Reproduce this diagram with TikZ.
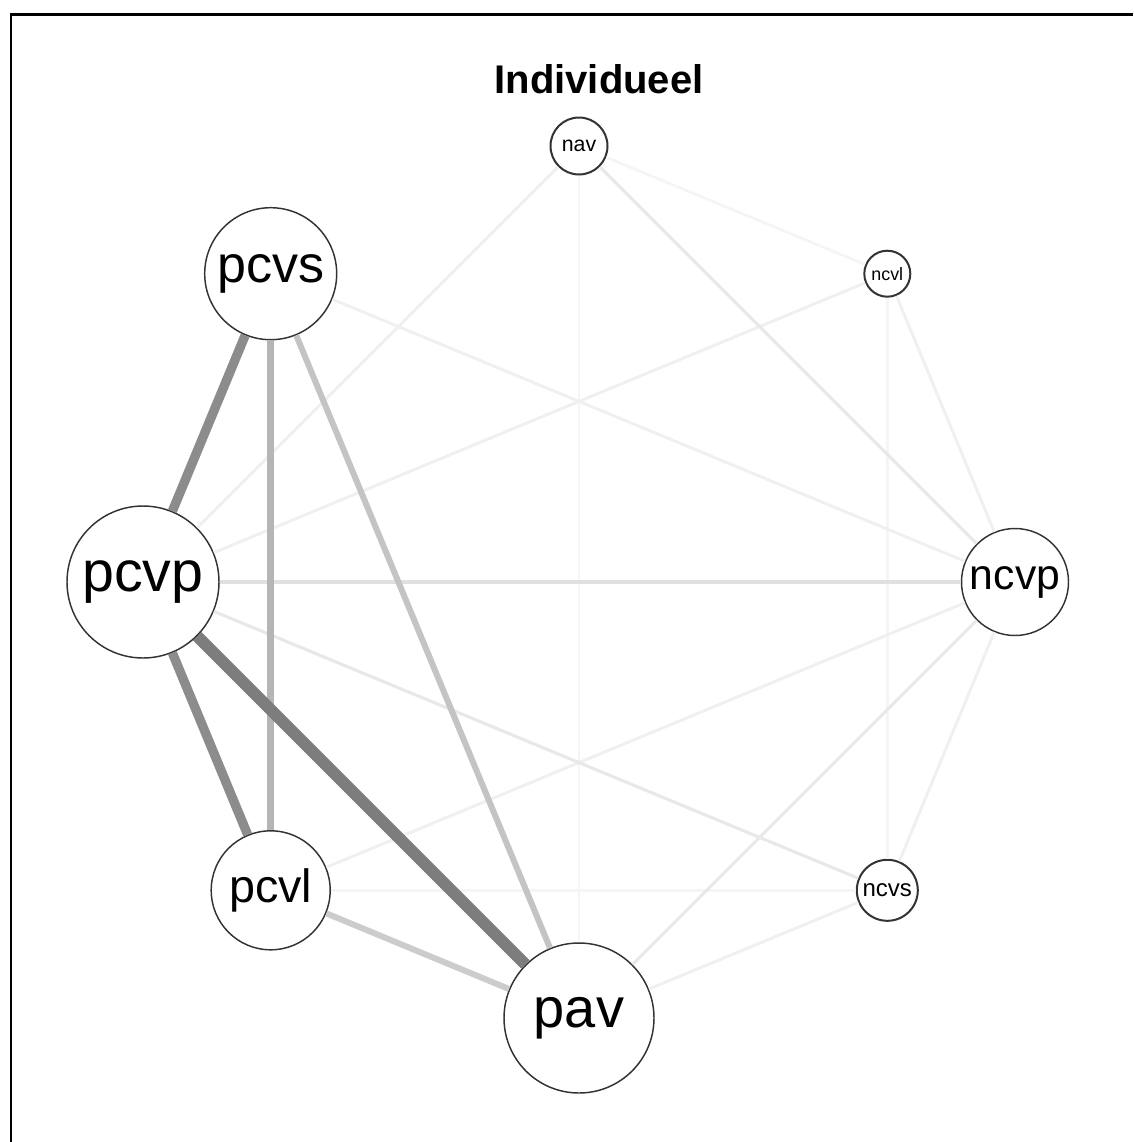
\documentclass[tikz,border=0pt]{standalone}
\usepackage{fontspec}
\setmainfont{Liberation Sans}
\begin{document}
\begin{tikzpicture}[x=0.75pt,y=-0.75pt,
  vnode/.style={circle, draw=black!80, fill=white, inner sep=0pt, line width=1.1pt},
  smallnode/.style={vnode, line width=1.5pt},
  edge/.style={line cap=butt},
  faint/.style={edge, draw=black!6, line width=2.2pt},
  fainter/.style={edge, draw=black!4, line width=2pt},
  soft/.style={edge, draw=black!9, line width=2.3pt}]
\useasboundingbox (0,0) rectangle (1133,1142);
\fill[white] (0,0) rectangle (1133,1142);
% frame
\draw[line width=1.7pt] (11,1142) -- (11,14.5) -- (1133,14.5);
% title
\node (title) at (599,79) {\fontsize{30}{36}\selectfont\bfseries Individueel};
% nodes on a circle around (579,582), radius 436
\node[smallnode, minimum size=42.75pt] (nav)  at (579,146)     {\fontsize{16}{19}\selectfont nav};
\node[smallnode, minimum size=34.5pt]  (ncvl) at (887.3,273.7) {\fontsize{13.4}{16}\selectfont ncvl};
\node[vnode, minimum size=80.25pt]     (ncvp) at (1015,582)    {\fontsize{32}{38}\selectfont ncvp};
\node[smallnode, minimum size=45.75pt] (ncvs) at (887.3,890.3) {\fontsize{18}{21}\selectfont ncvs};
\node[vnode, minimum size=112.5pt]     (pav)  at (579,1018)    {\fontsize{42}{50}\selectfont pav};
\node[vnode, minimum size=89.25pt]     (pcvl) at (270.7,890.3) {\fontsize{35}{42}\selectfont pcvl};
\node[vnode, minimum size=114pt]       (pcvp) at (143,582)     {\fontsize{43}{52}\selectfont pcvp};
\node[vnode, minimum size=99pt]        (pcvs) at (270.7,273.7) {\fontsize{39}{47}\selectfont pcvs};
% weak edges
\draw[fainter] (nav) -- (pav);
\draw[fainter] (ncvl) -- (ncvs);
\draw[fainter] (nav) -- (ncvl);
\draw[fainter] (pcvl) -- (ncvs);
\draw[faint] (nav) -- (pcvp);
\draw[faint] (ncvl) -- (pcvp);
\draw[faint] (pcvl) -- (ncvp);
\draw[faint] (ncvp) -- (ncvs);
\draw[faint] (pav) -- (ncvs);
\draw[faint] (pcvs) -- (ncvp);
\draw[faint] (ncvl) -- (ncvp);
\draw[soft] (pcvp) -- (ncvs);
\draw[soft] (nav) -- (ncvp);
\draw[soft] (ncvp) -- (pav);
% stronger edges
\draw[edge, draw=black!12, line width=3pt] (pcvp) -- (ncvp);
\draw[edge, draw=black!20, line width=4.5pt] (pcvl) -- (pav);
\draw[edge, draw=black!23, line width=4.5pt] (pcvs) -- (pav);
\draw[edge, draw=black!29, line width=5pt] (pcvs) -- (pcvl);
\draw[edge, draw=black!45, line width=7pt] (pcvs) -- (pcvp);
\draw[edge, draw=black!45, line width=7pt] (pcvp) -- (pcvl);
\draw[edge, draw=black!51, line width=9pt] (pcvp) -- (pav);
\end{tikzpicture}
\end{document}
